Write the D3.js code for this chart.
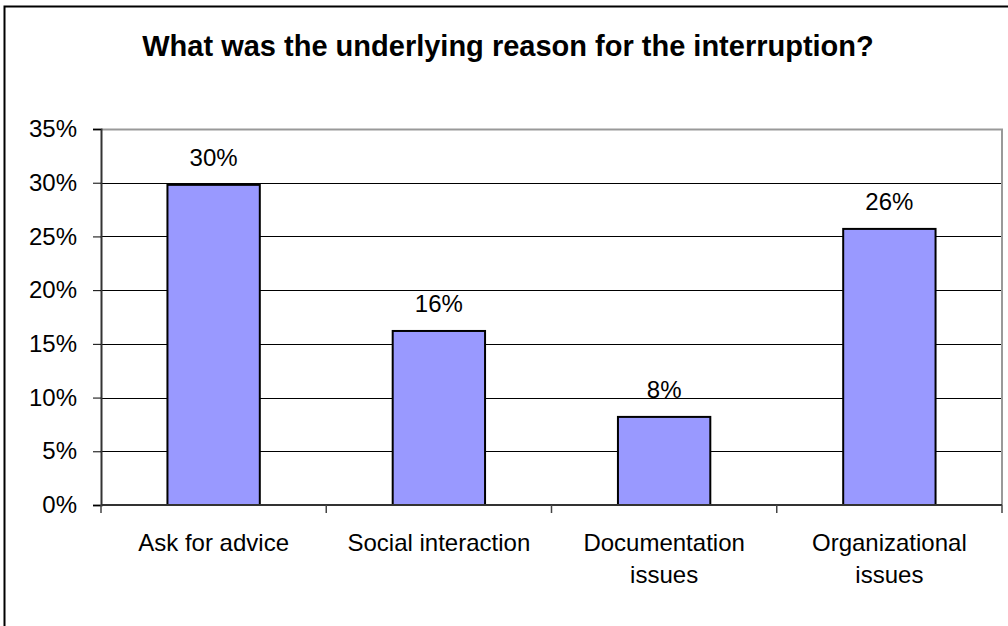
<!DOCTYPE html>
<html>
<head>
<meta charset="utf-8">
<script src="https://cdn.jsdelivr.net/npm/d3@7"></script>
<style>
  body { margin: 0; background: #fff; }
  svg { display: block; font-family: Arial, "Liberation Sans", sans-serif; }
</style>
</head>
<body>
<div id="chart"></div>
<script>
const categories = ["Ask for advice", "Social interaction", "Documentation issues", "Organizational issues"];
const categoryLines = [["Ask for advice"], ["Social interaction"], ["Documentation", "issues"], ["Organizational", "issues"]];
const values = [0.298, 0.162, 0.082, 0.257];
const valueLabels = ["30%", "16%", "8%", "26%"];
const yTicks = [0, 0.05, 0.1, 0.15, 0.2, 0.25, 0.3, 0.35];

const width = 1008;
const height = 626;
const margin = { top: 129, right: 6, bottom: 121, left: 101 };
const plotW = width - margin.left - margin.right;
const plotH = height - margin.top - margin.bottom;

const svg = d3
  .select("#chart")
  .append("svg")
  .attr("width", width)
  .attr("height", height);

// outer frame (runs off the right and bottom edges)
svg.append("rect")
  .attr("x", 4.5).attr("y", 6.5)
  .attr("width", width + 10).attr("height", height + 10)
  .attr("fill", "none").attr("stroke", "#000").attr("stroke-width", 2);

svg.append("text")
  .attr("x", 508).attr("y", 56)
  .attr("text-anchor", "middle")
  .style("font-size", "29px").style("font-weight", "bold")
  .text("What was the underlying reason for the interruption?");

const g = svg.append("g").attr("transform", `translate(${margin.left},${margin.top})`);

const xScale = d3.scaleBand().domain(categories).range([0, plotW]).paddingInner(0.59).paddingOuter(0.295);
const xCat = d3.scaleBand().domain(categories).range([0, plotW]);
const yScale = d3.scaleLinear().domain([0, 0.35]).range([plotH, 0]);

// gridlines
g.selectAll("line.grid")
  .data(yTicks.slice(1, -1))
  .enter().append("line")
  .attr("x1", 0).attr("x2", plotW)
  .attr("y1", (d) => Math.round(yScale(d)) + 0.5)
  .attr("y2", (d) => Math.round(yScale(d)) + 0.5)
  .attr("stroke", "#000").attr("stroke-width", 1);

// top and right plot border
g.append("path")
  .attr("d", `M0,0.5H${plotW}V${plotH}`)
  .attr("fill", "none").attr("stroke", "#999").attr("stroke-width", 2);

// bars
g.selectAll("rect.bar")
  .data(categories)
  .enter().append("rect")
  .attr("x", (d) => xScale(d))
  .attr("y", (d, i) => yScale(values[i]))
  .attr("width", xScale.bandwidth())
  .attr("height", (d, i) => plotH - yScale(values[i]))
  .attr("fill", "#9999ff")
  .attr("stroke", "#000").attr("stroke-width", 2);

// value labels
g.selectAll("text.val")
  .data(categories)
  .enter().append("text")
  .attr("x", (d) => xScale(d) + xScale.bandwidth() / 2)
  .attr("y", (d, i) => yScale(values[i]) - 19)
  .attr("text-anchor", "middle")
  .style("font-size", "24px")
  .text((d, i) => valueLabels[i]);

// y axis
const yAxis = d3.axisLeft(yScale).tickValues(yTicks).tickFormat(d3.format(".0%")).tickSize(8).tickPadding(16);
const ya = g.append("g").call(yAxis);
ya.select(".domain").attr("stroke", "#333").attr("stroke-width", 2);
ya.selectAll(".tick line").attr("stroke", "#000");
ya.selectAll(".tick text").style("font-size", "24px").attr("fill", "#000").style("font-family", "Arial, 'Liberation Sans', sans-serif");

// x axis
const xa = g.append("g").attr("transform", `translate(0,${plotH})`);
xa.append("line").attr("x1", 0).attr("x2", plotW).attr("y1", 0).attr("y2", 0)
  .attr("stroke", "#333").attr("stroke-width", 2);
xa.selectAll("line.xt")
  .data(categories.concat(["end"]))
  .enter().append("line")
  .attr("x1", (d, i) => i < categories.length ? xCat(d) : plotW)
  .attr("x2", (d, i) => i < categories.length ? xCat(d) : plotW)
  .attr("y1", 0).attr("y2", 8)
  .attr("stroke", "#444").attr("stroke-width", 1.5);

const xl = xa.selectAll("text.xl")
  .data(categories)
  .enter().append("text")
  .attr("x", (d) => xCat(d) + xCat.bandwidth() / 2)
  .attr("y", 46)
  .attr("text-anchor", "middle")
  .style("font-size", "24px");
xl.each(function (d, i) {
  const t = d3.select(this);
  categoryLines[i].forEach((line, j) => {
    t.append("tspan").attr("x", xCat(d) + xCat.bandwidth() / 2).attr("dy", j === 0 ? 0 : 32).text(line);
  });
});
</script>
</body>
</html>
